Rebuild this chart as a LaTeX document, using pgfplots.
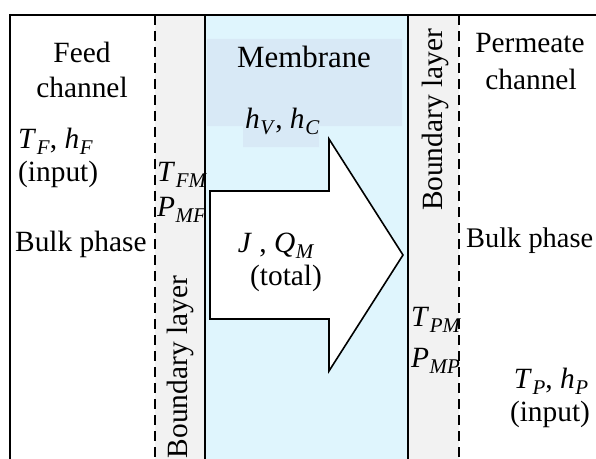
\documentclass[border=0pt]{standalone}
\usepackage{pgfplots}
\pgfplotsset{compat=1.18}
\usepackage{fontspec}
\setmainfont{Liberation Serif}
\definecolor{memb}{RGB}{223,245,253}
\definecolor{bl}{RGB}{242,242,242}
\definecolor{lab}{RGB}{216,233,246}
\newcommand\V[2]{\textit{#1}\kern0.02em\raisebox{-0.22em}{\fontsize{21}{21}\selectfont\textit{#2}}}
\begin{document}
\begin{tikzpicture}[font=\fontsize{29.5}{35}\selectfont]
\begin{axis}[width=596bp,height=459bp,scale only axis,hide axis,
  xmin=0,xmax=596,ymin=0,ymax=459,y dir=reverse,clip=false]
% regions
\addplot[fill=bl,draw=none] coordinates {(155,15)(205,15)(205,459)(155,459)} -- cycle;
\addplot[fill=bl,draw=none] coordinates {(408,15)(459,15)(459,459)(408,459)} -- cycle;
\addplot[fill=memb,draw=none] coordinates {(205,15)(408,15)(408,459)(205,459)} -- cycle;
\addplot[fill=lab,draw=none] coordinates {(207,39)(402,39)(402,126)(319,126)(319,147)(243,147)(243,126)(207,126)} -- cycle;
% arrow
\addplot[fill=white,draw=black,line width=1.6bp] coordinates {(210,191)(329,191)(329,139)(403,255)(329,371)(329,319)(210,319)} -- cycle;
% lines
\addplot[black,line width=1.6bp] coordinates {(10,15)(596,15)};
\addplot[black,line width=2.6bp] coordinates {(10,14)(10,299)};
\addplot[black,line width=1.4bp] coordinates {(10,299)(10,459)};
\addplot[black,line width=1.8bp] coordinates {(205,15)(205,459)};
\addplot[black,line width=1.8bp] coordinates {(408,15)(408,459)};
\addplot[black,line width=1.6bp,dash pattern=on 10bp off 6bp] coordinates {(155,15)(155,459)};
\addplot[black,line width=1.6bp,dash pattern=on 10bp off 6bp] coordinates {(459,15)(459,459)};
% texts
\node[anchor=base] at (axis cs:82,63) {Feed};
\node[anchor=base] at (axis cs:82,98) {channel};
\node[anchor=base west,inner sep=0pt] at (axis cs:18,148) {\V{T}{F}, \V{h}{F}};
\node[anchor=base west,inner sep=0pt] at (axis cs:18,181) {(input)};
\node[anchor=base west,inner sep=0pt] at (axis cs:15,251) {Bulk phase};
\node[anchor=base west,inner sep=0pt] at (axis cs:157,181) {\V{T}{FM}};
\node[anchor=base west,inner sep=0pt] at (axis cs:157,216) {\V{P}{MF}};
\node[anchor=base,inner sep=0pt,rotate=90] at (axis cs:187,367) {Boundary layer};
\node[anchor=base,inner sep=0pt,font=\fontsize{31}{36}\selectfont] at (axis cs:304,68) {Membrane};
\node[anchor=base west,inner sep=0pt] at (axis cs:245,128) {\V{h}{V}, \V{h}{C}};
\node[anchor=base,inner sep=0pt] at (axis cs:276,252) {\textit{J} , \V{Q}{M}};
\node[anchor=base,inner sep=0pt] at (axis cs:286,285) {(total)};
\node[anchor=base,inner sep=0pt,rotate=90] at (axis cs:442,120) {Boundary layer};
\node[anchor=base,inner sep=0pt] at (axis cs:530,53) {Permeate};
\node[anchor=base,inner sep=0pt] at (axis cs:531,90) {channel};
\node[anchor=base west,inner sep=0pt,font=\fontsize{28.5}{34}\selectfont] at (axis cs:466,247) {Bulk phase};
\node[anchor=base west,inner sep=0pt] at (axis cs:411,326) {\V{T}{PM}};
\node[anchor=base west,inner sep=0pt] at (axis cs:411,367) {\V{P}{MP}};
\node[anchor=base,inner sep=0pt] at (axis cs:551,388) {\V{T}{P}, \V{h}{P}};
\node[anchor=base,inner sep=0pt] at (axis cs:550,421) {(input)};
\end{axis}
\pgfresetboundingbox
\path[use as bounding box] (current axis.south west) rectangle (current axis.north east);
\end{tikzpicture}
\end{document}
